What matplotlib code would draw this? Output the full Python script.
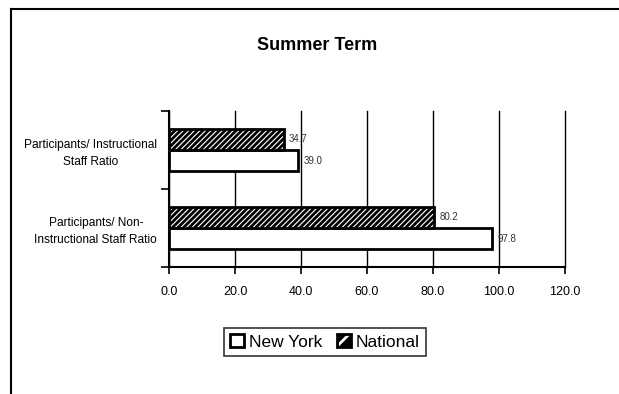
import matplotlib
matplotlib.use("Agg")
import matplotlib.pyplot as plt
from matplotlib.lines import Line2D
from matplotlib.patches import Patch
from matplotlib.legend_handler import HandlerTuple
import numpy as np

# data (bottom category first, as drawn)
categories = ["Participants/ Non-\nInstructional Staff Ratio",
              "Participants/ Instructional\nStaff Ratio"]
new_york = [97.8, 39.0]
national = [80.2, 34.7]
xticks = [0, 20, 40, 60, 80, 100, 120]

plt.rcParams['font.family'] = ['Liberation Sans', 'DejaVu Sans']
plt.rcParams['hatch.linewidth'] = 2.0

fig = plt.figure(figsize=(6.19, 3.94), dpi=100)
ax = fig.add_axes([169/619, 1-267/394, (565-169)/619, (267-111)/394])

y = np.arange(len(categories))
h = 0.27
b1 = ax.barh(y - h/2, new_york, h, color='white', edgecolor='black', linewidth=2, zorder=3)
b2 = ax.barh(y + h/2, national, h, color='white', edgecolor='black', hatch='//////', linewidth=2, zorder=3)

ax.bar_label(b1, fmt='%.1f', padding=4, fontsize=7, color='#333333')
ax.bar_label(b2, fmt='%.1f', padding=4, fontsize=7, color='#333333')

ax.set_xlim(0, 120)
ax.set_ylim(-0.5, 1.5)
ax.set_xticks(xticks)
ax.set_xticklabels(['%.1f' % v for v in xticks], fontsize=9)
ax.set_yticks(y)
ax.set_yticklabels(categories, fontsize=8.6, linespacing=1.55, ha='right', multialignment='center')
ax.set_yticks([-0.5, 0.5, 1.5], minor=True)
ax.tick_params(axis='y', which='major', length=0, pad=8.5)
ax.tick_params(axis='y', which='minor', length=6, width=1.2, direction='out')
ax.tick_params(axis='x', length=5, width=1.2, direction='out', pad=9)

ax.grid(axis='x', color='black', linewidth=1, zorder=0)
for gl in ax.get_xgridlines():
    gl.set_clip_on(False)
ax.spines['top'].set_visible(False)
ax.spines['right'].set_visible(False)
ax.spines['left'].set_linewidth(1.5)
ax.spines['bottom'].set_linewidth(1.5)

fig.text(317/619, 1-45/394, "Summer Term", ha='center', va='center',
         fontsize=13, fontweight='bold')

# legend: white box for New York, black box with white stripes for National
ny_handle = Patch(facecolor='white', edgecolor='black', linewidth=2)
nat_handle = (Patch(facecolor='black', edgecolor='black', linewidth=0),
              Patch(facecolor='none', edgecolor='white', hatch='//', linewidth=0),
              Patch(facecolor='none', edgecolor='black', linewidth=2))
leg = fig.legend([ny_handle, nat_handle], ["New York", "National"], loc='center',
                 bbox_to_anchor=(325/619, 1-342/394), ncol=2, fontsize=12.5,
                 frameon=True, fancybox=False, edgecolor='black',
                 handlelength=0.8, handleheight=0.8, handletextpad=0.3,
                 columnspacing=0.8, borderpad=0.35,
                 handler_map={tuple: HandlerTuple(ndivide=1, pad=0)})
leg.get_frame().set_linewidth(1.2)

# chart border (left and top)
fig.add_artist(Line2D([11/619, 11/619], [0, 1-9/394], color='black', linewidth=1.5))
fig.add_artist(Line2D([11/619, 1], [1-9/394, 1-9/394], color='black', linewidth=1.5))

fig.savefig("out.png", dpi=100)
